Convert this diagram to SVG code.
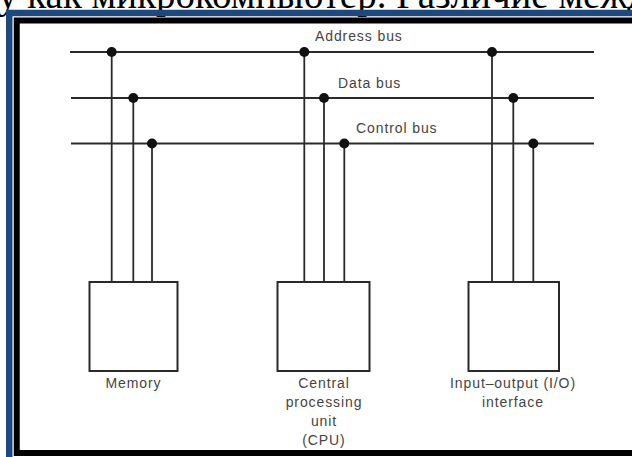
<svg xmlns="http://www.w3.org/2000/svg" width="632" height="457" viewBox="0 0 632 457">
<style>
.bus{stroke:#2a2a2a;stroke-width:1.8;fill:none}
.box{stroke:#2a2a2a;stroke-width:2;fill:#fff}
.dot{fill:#111}
.lbl{font-family:"Liberation Sans",Arial,sans-serif;font-size:14px;fill:#444;letter-spacing:0.9px}
.mid{text-anchor:middle}
</style>
<rect width="632" height="457" fill="#fff"/>
<text x="-2" y="8" font-family="Liberation Serif,'Times New Roman',serif" font-size="39" fill="#000">у как микрокомпьютер. Различие между</text>
<path d="M 700 13 H 9.25 V 470" fill="none" stroke="#1f487c" stroke-width="6.5"/>
<path d="M 700 20.5 H 16.75 V 453 H 700" fill="none" stroke="#000" stroke-width="6"/>
<g id="connectors">
<line class="bus" x1="70" y1="52" x2="594" y2="52"/>
<line class="bus" x1="71" y1="98" x2="594" y2="98"/>
<line class="bus" x1="71" y1="143.5" x2="594" y2="143.5"/>
<line class="bus" x1="111.7" y1="52" x2="111.7" y2="282"/>
<line class="bus" x1="133.3" y1="98" x2="133.3" y2="282"/>
<line class="bus" x1="152" y1="143.5" x2="152" y2="282"/>
<line class="bus" x1="304.3" y1="52" x2="304.3" y2="282"/>
<line class="bus" x1="324" y1="98" x2="324" y2="282"/>
<line class="bus" x1="344.3" y1="143.5" x2="344.3" y2="282"/>
<line class="bus" x1="492" y1="52" x2="492" y2="282"/>
<line class="bus" x1="513.3" y1="98" x2="513.3" y2="282"/>
<line class="bus" x1="533.3" y1="143.5" x2="533.3" y2="282"/>
<circle class="dot" cx="111.7" cy="52" r="5"/>
<circle class="dot" cx="133.3" cy="98" r="5"/>
<circle class="dot" cx="152" cy="143.5" r="5"/>
<circle class="dot" cx="304.3" cy="52" r="5"/>
<circle class="dot" cx="324" cy="98" r="5"/>
<circle class="dot" cx="344.3" cy="143.5" r="5"/>
<circle class="dot" cx="492" cy="52" r="5"/>
<circle class="dot" cx="513.3" cy="98" r="5"/>
<circle class="dot" cx="533.3" cy="143.5" r="5"/>
</g>
<g id="bus-labels">
<text class="lbl" x="315" y="41">Address bus</text>
<text class="lbl" x="338" y="88">Data bus</text>
<text class="lbl" x="356" y="133">Control bus</text>
</g>
<g id="memory">
<rect class="box" x="89.5" y="282" width="88" height="89"/>
<text class="lbl mid" x="133.5" y="388">Memory</text>
</g>
<g id="cpu">
<rect class="box" x="277.5" y="282" width="92" height="89"/>
<text class="lbl mid" x="324" y="388">Central</text>
<text class="lbl mid" x="324" y="407">processing</text>
<text class="lbl mid" x="324" y="426">unit</text>
<text class="lbl mid" x="324" y="445">(CPU)</text>
</g>
<g id="io">
<rect class="box" x="468.5" y="282" width="90.5" height="89"/>
<text class="lbl mid" x="513" y="388">Input–output (I/O)</text>
<text class="lbl mid" x="513" y="407">interface</text>
</g>
</svg>
